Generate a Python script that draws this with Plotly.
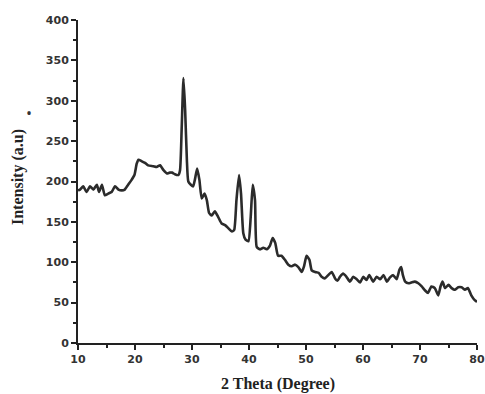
import plotly.graph_objects as go

two_theta = [10.0, 10.35, 10.93, 11.5, 12.1, 12.7, 13.3, 13.7, 14.2, 14.7, 15.3, 15.9, 16.5, 17.1, 17.7,
             18.2, 18.8, 19.4, 19.9, 20.3, 20.6, 21.2, 21.75, 22.3, 23.2, 23.8, 24.4, 25.0, 25.6, 26.1,
             26.5, 27.0, 27.6, 27.9, 28.2, 28.5, 28.8, 29.1, 29.35, 29.8, 30.2, 30.5, 30.9, 31.3, 31.7,
             32.2, 32.6, 33.0, 33.45, 34.0, 34.6, 35.2, 35.8, 36.4, 37.0, 37.4, 37.8, 38.25, 38.6, 39.0,
             39.4, 39.9, 40.3, 40.65, 41.05, 41.35, 41.9, 42.5, 43.1, 43.7, 44.15, 44.6, 45.1, 45.7,
             46.3, 46.9, 47.5, 48.1, 48.65, 49.25, 49.65, 50.1, 50.6, 51.0, 51.6, 52.2, 52.75, 53.3,
             53.9, 54.5, 55.1, 55.5, 55.96, 56.5, 57.1, 57.7, 58.3, 58.9, 59.5, 60.05, 60.6, 61.1,
             61.8, 62.4, 63.0, 63.6, 64.2, 64.7, 65.3, 65.9, 66.4, 66.7, 67.0, 67.4, 68.0, 68.5, 69.1,
             69.7, 70.3, 70.9, 71.4, 72.0, 72.6, 73.2, 73.6, 73.95, 74.4, 75.0, 75.55, 76.1, 76.7,
             77.3, 77.9, 78.4, 79.0, 79.6, 80.0]
intensity = [189, 190, 194, 187, 194, 190, 196, 187, 196, 183, 185, 187, 194, 190, 189,
             190, 196, 202, 208, 222, 227, 225, 223, 220, 219, 218, 220, 214, 210, 211,
             211, 209, 208, 214, 268, 328, 288, 227, 200, 196, 194, 202, 216, 202, 179,
             185, 177, 161, 158, 163, 156, 148, 146, 142, 138, 140, 177, 208, 185, 136,
             128, 126, 156, 196, 177, 119, 116, 118, 116, 121, 130, 124, 108, 108,
             103, 97, 95, 97, 94, 88, 95, 108, 103, 90, 88, 87, 82, 80,
             84, 88, 80, 77, 82, 86, 82, 76, 82, 79, 75, 82, 78, 84,
             76, 82, 79, 84, 76, 81, 84, 79, 91, 94, 84, 76, 74, 75, 76,
             74, 70, 65, 62, 70, 68, 59, 70, 76, 68, 72, 68, 66, 69,
             69, 66, 68, 59, 53, 51]

x_ticks = [10, 20, 30, 40, 50, 60, 70, 80]
y_ticks = [0, 50, 100, 150, 200, 250, 300, 350, 400]
x_title = "2 Theta (Degree)"
y_title = "Intensity (a.u)"

tick_font = dict(family="DejaVu Sans, Arial, sans-serif", size=11, color="#333333", weight="bold")
title_font = dict(family="Liberation Serif, Times New Roman, serif", size=16, color="#222222", weight="bold")

fig = go.Figure()
fig.add_trace(go.Scatter(
    x=two_theta, y=intensity, mode="lines",
    line=dict(color="#2b2b2b", width=2.6, shape="spline", smoothing=0.5),
    showlegend=False, hoverinfo="skip",
))

fig.update_layout(
    width=485, height=394,
    margin=dict(l=78, r=8, t=20, b=51, autoexpand=False),
    paper_bgcolor="white", plot_bgcolor="white",
)
fig.update_xaxes(
    range=[10, 80], tickvals=x_ticks, ticktext=[str(v) for v in x_ticks],
    showgrid=False, zeroline=False, showline=True, linecolor="#222222", linewidth=2,
    ticks="outside", ticklen=5, tickwidth=2, tickcolor="#222222",
    minor=dict(dtick=5, tick0=5, ticks="outside", ticklen=3, tickwidth=1.5, tickcolor="#222222"),
    tickfont=tick_font, automargin=False,
)
fig.update_yaxes(
    range=[0, 400], tickvals=y_ticks, ticktext=[str(v) for v in y_ticks],
    showgrid=False, zeroline=False, showline=True, linecolor="#222222", linewidth=2,
    ticks="outside", ticklen=5, tickwidth=2, tickcolor="#222222",
    minor=dict(dtick=25, tick0=25, ticks="outside", ticklen=3, tickwidth=1.5, tickcolor="#222222"),
    tickfont=tick_font, automargin=False,
)
# axis titles placed as annotations (paper coordinates relative to plot area)
fig.add_annotation(text=x_title, xref="paper", yref="paper", x=0.5, y=-(384 - 343) / 323,
                   xanchor="center", yanchor="middle", showarrow=False, font=title_font)
fig.add_annotation(text=y_title, xref="paper", yref="paper", x=(18 - 78) / 399, y=(343 - 177) / 323,
                   xanchor="center", yanchor="middle", textangle=-90, showarrow=False, font=title_font)
fig.add_annotation(text="•", xref="paper", yref="paper", x=(29 - 78) / 399, y=(343 - 113) / 323,
                   xanchor="center", yanchor="middle", showarrow=False,
                   font=dict(size=16, color="#333333"))

fig.write_html("out.html", config={"displayModeBar": False},
               post_script="document.body.style.margin='0';document.body.style.padding='0';")
